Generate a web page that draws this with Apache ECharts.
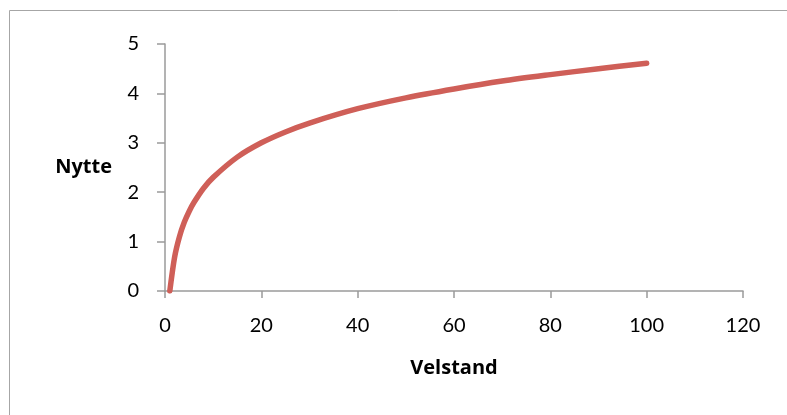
<!DOCTYPE html>
<html>
<head>
<meta charset="utf-8">
<script src="https://cdn.jsdelivr.net/npm/echarts@6/dist/echarts.min.js"></script>
<style>
  html, body { margin: 0; padding: 0; background: #fff; }
  #chart { width: 787px; height: 415px; }
</style>
</head>
<body>
<div id="chart"></div>
<script>
// velstand (x) og nytte (y), lest av figuren
var velstand = [1, 2, 3, 4, 5, 6, 8, 10, 15, 20, 25, 30, 40, 50, 60, 70, 80, 90, 100]
var nytte = [0, 0.69, 1.1, 1.39, 1.61, 1.79, 2.08, 2.3, 2.71, 3.0, 3.22, 3.4, 3.69, 3.91, 4.09, 4.25, 4.38, 4.5, 4.61]

var punkter = []
velstand.forEach(function (v, i) {
  punkter.push([v, nytte[i]])
})

var axisGrey = '#9a9a9a'
var labelFont = 'Lato, "Open Sans", sans-serif'
var nameFont = '"Open Sans", Lato, sans-serif'

var myChart = echarts.init(document.getElementById('chart'))
myChart.setOption({
  animation: false,
  grid: { left: 165, right: 44, top: 44, bottom: 124 },
  graphic: [{
    type: 'rect',
    shape: { x: 9.5, y: 10.5, width: 800, height: 420 },
    style: { fill: 'none', stroke: '#a6a6a6', lineWidth: 1 }
  }],
  xAxis: {
    type: 'value',
    min: 0,
    max: 120,
    interval: 20,
    name: 'Velstand',
    nameLocation: 'middle',
    nameGap: 67,
    nameTextStyle: { fontFamily: nameFont, fontWeight: 'bold', fontSize: 20, color: '#000' },
    axisLine: { lineStyle: { color: axisGrey, width: 1.5 } },
    axisTick: { length: 7, lineStyle: { color: axisGrey, width: 1.5 } },
    axisLabel: { margin: 25, fontFamily: labelFont, fontSize: 20, color: '#000' },
    splitLine: { show: false }
  },
  yAxis: {
    type: 'value',
    min: 0,
    max: 5,
    interval: 1,
    name: 'Nytte',
    nameLocation: 'middle',
    nameRotate: 0,
    nameGap: 53,
    nameTextStyle: { fontFamily: nameFont, fontWeight: 'bold', fontSize: 20, color: '#000', padding: [16, 0, 0, 0] },
    axisLine: { show: true, lineStyle: { color: axisGrey, width: 1.5 } },
    axisTick: { show: true, length: 8, lineStyle: { color: axisGrey, width: 1.5 } },
    axisLabel: { margin: 26, fontFamily: labelFont, fontSize: 20, color: '#000' },
    splitLine: { show: false }
  },
  series: [{
    type: 'line',
    data: punkter,
    smooth: 0.3,
    showSymbol: false,
    lineStyle: { color: '#cf5f58', width: 5.5, cap: 'round', join: 'round' }
  }]
})
</script>
</body>
</html>
